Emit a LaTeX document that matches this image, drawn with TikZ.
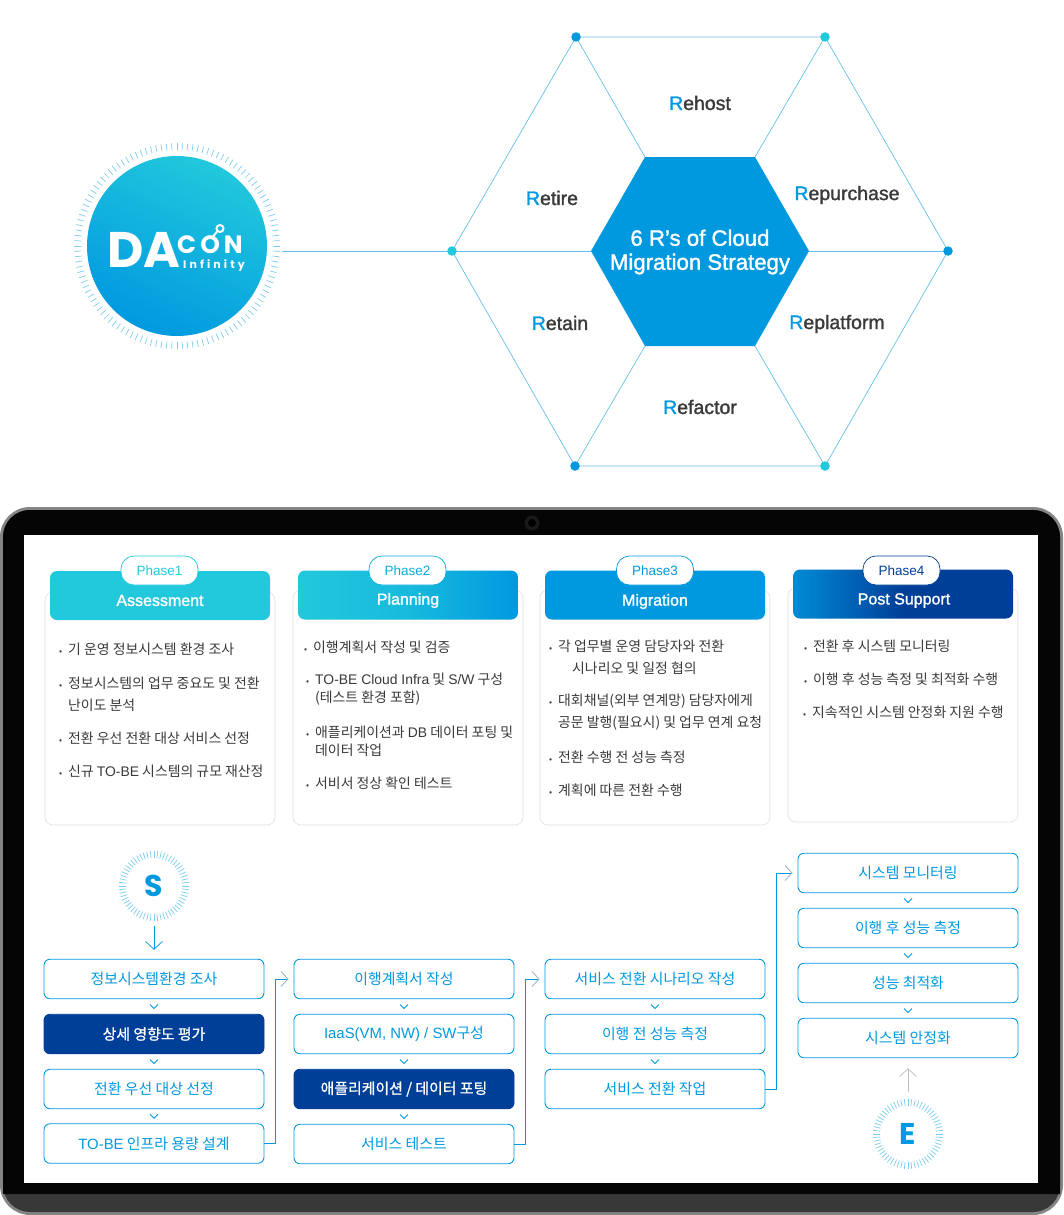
\documentclass[tikz,border=0pt]{standalone}
\usepackage{xcolor}
\usepackage{fontspec}
\setmainfont{Noto Sans CJK KR}
\newfontfamily\lat{Liberation Sans}
\newfontfamily\latm[FakeBold=1.5]{Liberation Sans}
\newfontfamily\krm[FakeBold=1]{Noto Sans CJK KR}
\newfontfamily\logofont{Poppins}
\definecolor{dteal}{HTML}{22C8DC}
\definecolor{dblue}{HTML}{0099E0}
\definecolor{dnavy}{HTML}{003F98}
\definecolor{dline}{HTML}{66BFE8}
\definecolor{dtick}{HTML}{7CCDF0}
\definecolor{dtext}{HTML}{3A3A3A}
\definecolor{dtip}{HTML}{8FB4CC}
\newcommand{\rr}[1]{\textcolor{dblue}{#1}}
\newcommand{\bul}{\makebox[9pt][l]{\fontsize{9}{9}\selectfont •}}
\newcommand{\ind}{\hspace*{9pt}}
\usetikzlibrary{arrows.meta}
\usetikzlibrary{calc}
\usetikzlibrary{positioning}
\tikzset{
    hexline/.style={draw=dline, line width=0.7pt},
    hexdot/.style={circle, fill=#1, minimum size=9.5pt, inner sep=0pt},
    rlabel/.style={font=\latm\fontsize{19.5}{20}\selectfont, text=dtext},
    card/.style={draw=black!12, line width=0.6pt, rounded corners=8pt, fill=white},
    headbox/.style={rounded corners=7pt, minimum width=220pt, minimum height=49pt, inner sep=0pt, text=white, font=\latm\fontsize{16}{16}\selectfont},
    pill/.style={draw=#1, text=#1, fill=white, rounded corners=13pt, line width=0.7pt, minimum width=77pt, minimum height=29pt, inner sep=0pt, font=\lat\fontsize{13.5}{14}\selectfont},
    itemtxt/.style={anchor=west, align=left, inner sep=0pt, text=dtext, font=\fontsize{13.9}{#1}\selectfont},
    itemtxt/.default=22pt,
    flowbox/.style={draw=dblue, text=dblue, fill=white, line width=0.9pt, rounded corners=6pt, minimum width=220pt, minimum height=39.5pt, inner sep=0pt, font=\fontsize{14.9}{15}\selectfont},
    flownavy/.style={flowbox, draw=dnavy, fill=dnavy, text=white, font=\krm\fontsize{14.9}{15}\selectfont},
    chevron/.style={draw=dblue, line width=1pt},
    linkline/.style={draw=dblue, line width=0.7pt, -{Straight Barb[length=7pt, width=15pt, color=dtip, line width=0.8pt]}},
    ticks/.style={draw=dtick, line width=0.7pt},
    startend/.style={circle, inner sep=0pt, minimum size=20pt, text=dblue, font=\logofont\bfseries\fontsize{30}{30}\selectfont}
}

\begin{document}
\begin{tikzpicture}[x=1pt, y=-1pt]

    \useasboundingbox (0, 0) rectangle (1063, 1215);

    % logo
    \node [circle, minimum size=180pt, inner sep=0pt, top color=dteal, bottom color=dblue, shading angle=-25] (logo) at (177, 246) {};

    \foreach \a in {0, 3, ..., 357} {
        \draw [ticks] ($(logo) + (\a:96)$) -- ($(logo) + (\a:103)$);
    }

    \node [text=white, inner sep=0pt, anchor=base west, font=\logofont\bfseries\fontsize{50}{50}\selectfont] (logoda) at (107, 267) {DA};
    \node [text=white, inner sep=0pt, anchor=base west, font=\logofont\bfseries\fontsize{25}{25}\selectfont] (logocon) at (177, 253) {C\hspace{4pt}O\hspace{4pt}N};
    \node [text=white, inner sep=0pt, anchor=base west, font=\logofont\bfseries\fontsize{11}{11}\selectfont] (logoinf) at (183, 268) {I\hspace{3.1pt}n\hspace{3.1pt}f\hspace{3.1pt}i\hspace{3.1pt}n\hspace{3.1pt}i\hspace{3.1pt}t\hspace{3.1pt}y};
    \draw [white, line width=2pt] (220, 228.5) circle (3.5);
    \draw [white, line width=2pt] (217.5, 231) -- (212, 238);

    % hexagon
    \coordinate (a1) at (576, 37);
    \coordinate (a2) at (825, 37);
    \coordinate (a3) at (948, 251);
    \coordinate (a4) at (825, 466);
    \coordinate (a5) at (575, 466);
    \coordinate (a6) at (452, 251);

    \coordinate (b1) at (645, 157);
    \coordinate (b2) at (755, 157);
    \coordinate (b3) at (809, 251);
    \coordinate (b4) at (755, 346);
    \coordinate (b5) at (645, 346);
    \coordinate (b6) at (591, 251);

    \draw [hexline] (a1) -- (a2) -- (a3) -- (a4) -- (a5) -- (a6) -- cycle;

    \foreach \i in {1, ..., 6} {
        \draw [hexline] (a\i) -- (b\i);
    }

    \draw [hexline] ([xshift=15pt]logo.east |- a6) -- (a6);

    \fill [dblue] (b1) -- (b2) -- (b3) -- (b4) -- (b5) -- (b6) -- cycle;

    \node [hexdot=dblue] (d1) at (a1) {};
    \node [hexdot=dteal] (d2) at (a2) {};
    \node [hexdot=dblue] (d3) at (a3) {};
    \node [hexdot=dteal] (d4) at (a4) {};
    \node [hexdot=dblue] (d5) at (a5) {};
    \node [hexdot=dteal] (d6) at (a6) {};

    \node [text=white, align=center, font=\latm\fontsize{22.2}{24}\selectfont] (core) at (700, 252) {6 R’s of Cloud\\Migration Strategy};

    \node [rlabel] (rehost) at (700, 103) {\rr{R}ehost};
    \node [rlabel] (repurchase) at (847, 195) {\rr{R}epurchase};
    \node [rlabel] (replatform) at (837, 324) {\rr{R}eplatform};
    \node [rlabel] (refactor) at (700, 407) {\rr{R}efactor};
    \node [rlabel] (retain) at (560, 323) {\rr{R}etain};
    \node [rlabel] (retire) at (552, 198) {\rr{R}etire};

    % tablet
    \fill [black!48, rounded corners=30pt] (0, 507) rectangle (1063, 1215);
    \fill [black!78, rounded corners=27pt] (3, 510) rectangle (1060, 1212);
    \fill [black!98] (3, 1194) [rounded corners=27pt] -- (3, 510) -- (1060, 510) [sharp corners] -- (1060, 1194) -- cycle;
    \fill [white] (24, 535) rectangle (1038, 1183);
    \fill [black!90] (532, 523) circle (7.5);
    \fill [black] (532, 523) circle (4);

    % phases
    \draw [card] (45, 592) rectangle (275, 825);
    \draw [card] (293, 590) rectangle (523, 825);
    \draw [card] (540, 590) rectangle (770, 825);
    \draw [card] (788, 588) rectangle (1018, 822);

    \node [headbox, fill=dteal] (head1) at (160, 595.5) {};
    \node [headbox, left color=dteal, right color=dblue, middle color=dteal!70!dblue] (head2) at (408, 595) {};
    \node [headbox, fill=dblue] (head3) at (655, 595) {};
    \node [headbox, left color=dblue!85!dnavy, right color=dnavy, middle color=dnavy] (head4) at (903, 594) {};

    \node [text=white, font=\latm\fontsize{16}{16}\selectfont] (title1) at (160, 600.5) {Assessment};
    \node [text=white, font=\latm\fontsize{16}{16}\selectfont] (title2) at (408, 600.5) {Planning};
    \node [text=white, font=\latm\fontsize{16}{16}\selectfont] (title3) at (655, 601.5) {Migration};
    \node [text=white, font=\latm\fontsize{16}{16}\selectfont] (title4) at (904, 600.5) {Post Support};

    \node [pill=dteal] (pill1) at (159.5, 570.5) {Phase1};
    \node [pill=dteal!40!dblue] (pill2) at (407.5, 570.5) {Phase2};
    \node [pill=dblue] (pill3) at (655, 570.5) {Phase3};
    \node [pill=dnavy] (pill4) at (901.5, 570.5) {Phase4};

    \node [itemtxt] (i11) at (59, 649) {\bul 기 운영 정보시스템 환경 조사};
    \node [itemtxt] (i12) at (59, 694) {\bul 정보시스템의 업무 중요도 및 전환\\\ind 난이도 분석};
    \node [itemtxt] (i13) at (59, 738) {\bul 전환 우선 전환 대상 서비스 선정};
    \node [itemtxt] (i14) at (59, 771) {\bul 신규 {\lat TO-BE} 시스템의 규모 재산정};

    \node [itemtxt] (i21) at (304, 647) {\bul 이행계획서 작성 및 검증};
    \node [itemtxt=18pt] (i22) at (306, 689) {\bul {\lat TO-BE Cloud Infra} 및 {\lat S/W} 구성\\\ind (테스트 환경 포함)};
    \node [itemtxt=18pt] (i23) at (306, 741) {\bul 애플리케이션과 {\lat DB} 데이터 포팅 및\\\ind 데이터 작업};
    \node [itemtxt] (i24) at (306, 783) {\bul 서비서 정상 확인 테스트};

    \node [itemtxt] (i31) at (549, 657) {\bul 각 업무별 운영 담당자와 전환\\\hspace*{23pt}시나리오 및 일정 협의};
    \node [itemtxt] (i32) at (549, 712) {\bul 대회채널(외부 연계망) 담당자에게\\\ind 공문 발행(필요시) 및 업무 연계 요청};
    \node [itemtxt] (i33) at (549, 757) {\bul 전환 수행 전 성능 측정};
    \node [itemtxt] (i34) at (549, 790) {\bul 계획에 따른 전환 수행};

    \node [itemtxt] (i41) at (804, 646) {\bul 전환 후 시스템 모니터링};
    \node [itemtxt] (i42) at (804, 679) {\bul 이행 후 성능 측정 및 최적화 수행};
    \node [itemtxt] (i43) at (803, 712) {\bul 지속적인 시스템 안정화 지원 수행};

    % flow
    \node [flowbox] (f11) at (154, 979) {정보시스템환경 조사};
    \node [flownavy] (f12) at (154, 1034) {상세 영향도 평가};
    \node [flowbox] (f13) at (154, 1089) {전환 우선 대상 선정};
    \node [flowbox] (f14) at (154, 1143.5) {{\lat TO-BE} 인프라 용량 설계};

    \node [flowbox] (f21) at (404, 979) {이행계획서 작성};
    \node [flowbox] (f22) at (404, 1034) {{\lat IaaS(VM, NW) / SW}구성};
    \node [flownavy] (f23) at (404, 1089) {애플리케이션 / 데이터 포팅};
    \node [flowbox] (f24) at (404, 1144) {서비스 테스트};

    \node [flowbox] (f31) at (655, 979) {서비스 전환 시나리오 작성};
    \node [flowbox] (f32) at (655, 1034) {이행 전 성능 측정};
    \node [flowbox] (f33) at (655, 1089) {서비스 전환 작업};

    \node [flowbox] (f41) at (908, 873) {시스템 모니터링};
    \node [flowbox] (f42) at (908, 928) {이행 후 성능 측정};
    \node [flowbox] (f43) at (908, 983) {성능 최적화};
    \node [flowbox] (f44) at (908, 1038) {시스템 안정화};

    \foreach \p/\q in {f11/f12, f12/f13, f13/f14, f21/f22, f22/f23, f23/f24, f31/f32, f32/f33, f41/f42, f42/f43, f43/f44} {
        \draw [chevron] ($(\p.south)!0.5!(\q.north) + (-4, -2)$) -- ++(4, 4) -- ++(4, -4);
    }

    \draw [linkline] (f14.east) -- ++(11, 0) |- ([xshift=-5pt]f21.west);
    \draw [linkline] (f24.east) -- ++(11, 0) |- ([xshift=-5pt]f31.west);
    \draw [linkline] (f33.east) -- ++(11, 0) |- ([xshift=-5pt]f41.west);

    % start and end
    \node [startend] (start) at (154, 886) {S};
    \node [startend] (finish) at (908, 1134) {E};

    \foreach \a in {0, 6, ..., 354} {
        \draw [ticks] ($(start) + (\a:28)$) -- ($(start) + (\a:35)$);
        \draw [ticks] ($(finish) + (\a:28)$) -- ($(finish) + (\a:35)$);
    }

    \draw [draw=dblue, line width=0.7pt, -{Straight Barb[length=8pt, width=17pt, line width=0.7pt]}] ([yshift=-40pt]start.center) -- ([yshift=9pt]f11.north);
    \draw [draw=black!25, line width=0.7pt, -{Straight Barb[length=8pt, width=17pt, line width=0.7pt]}] ([yshift=42pt]finish.center) -- ([yshift=-10pt]f44.south);

\end{tikzpicture}
\end{document}
